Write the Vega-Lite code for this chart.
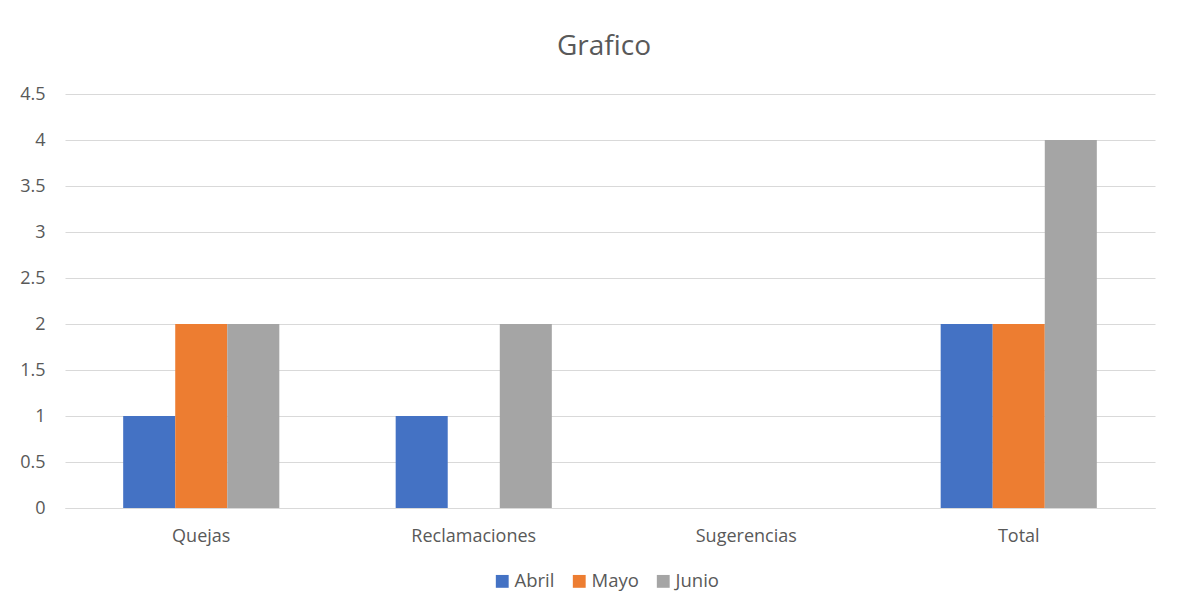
{
  "$schema": "https://vega.github.io/schema/vega-lite/v6.json",
  "width": 1090,
  "height": 414,
  "autosize": {"type": "none"},
  "padding": {"left": 65, "top": 94, "right": 41, "bottom": 103},
  "background": "white",
  "title": {
    "text": "Grafico",
    "fontSize": 28,
    "font": "Open Sans",
    "fontWeight": "normal",
    "color": "#595959",
    "anchor": "middle",
    "dx": -6,
    "offset": 24
  },
  "data": {
    "values": [
      {"Categoria": "Quejas", "Mes": "Abril", "Valor": 1},
      {"Categoria": "Quejas", "Mes": "Mayo", "Valor": 2},
      {"Categoria": "Quejas", "Mes": "Junio", "Valor": 2},
      {"Categoria": "Reclamaciones", "Mes": "Abril", "Valor": 1},
      {"Categoria": "Reclamaciones", "Mes": "Mayo", "Valor": 0},
      {"Categoria": "Reclamaciones", "Mes": "Junio", "Valor": 2},
      {"Categoria": "Sugerencias", "Mes": "Abril", "Valor": 0},
      {"Categoria": "Sugerencias", "Mes": "Mayo", "Valor": 0},
      {"Categoria": "Sugerencias", "Mes": "Junio", "Valor": 0},
      {"Categoria": "Total", "Mes": "Abril", "Valor": 2},
      {"Categoria": "Total", "Mes": "Mayo", "Valor": 2},
      {"Categoria": "Total", "Mes": "Junio", "Valor": 4}
    ]
  },
  "mark": {"type": "bar"},
  "encoding": {
    "x": {
      "field": "Categoria",
      "type": "nominal",
      "sort": ["Quejas", "Reclamaciones", "Sugerencias", "Total"],
      "title": null,
      "scale": {"paddingInner": 0.427, "paddingOuter": 0.2135},
      "axis": {
        "labelAngle": 0,
        "ticks": false,
        "domainColor": "#d9d9d9",
        "labelPadding": 19
      }
    },
    "xOffset": {
      "field": "Mes",
      "sort": ["Abril", "Mayo", "Junio"],
      "scale": {"paddingInner": 0, "paddingOuter": 0}
    },
    "y": {
      "field": "Valor",
      "type": "quantitative",
      "title": null,
      "scale": {"domain": [0, 4.5]},
      "axis": {
        "values": [0, 0.5, 1, 1.5, 2, 2.5, 3, 3.5, 4, 4.5],
        "domain": false,
        "ticks": false,
        "labelPadding": 20,
        "format": "~g"
      }
    },
    "color": {
      "field": "Mes",
      "type": "nominal",
      "sort": ["Abril", "Mayo", "Junio"],
      "scale": {"domain": ["Abril", "Mayo", "Junio"], "range": ["#4472C4", "#ED7D31", "#A5A5A5"]},
      "legend": {
        "title": null,
        "orient": "none",
        "legendX": 428,
        "legendY": 478,
        "direction": "horizontal",
        "symbolType": "square",
        "symbolSize": 165,
        "symbolStrokeWidth": 0,
        "labelFontSize": 18.5,
        "labelColor": "#595959",
        "labelFont": "Open Sans",
        "columnPadding": 15,
        "labelOffset": 3
      }
    }
  },
  "config": {
    "view": {"stroke": null},
    "axis": {
      "labelFont": "Open Sans",
      "labelFontSize": 18,
      "labelColor": "#595959",
      "gridColor": "#d9d9d9",
      "gridWidth": 1
    },
    "axisX": {"grid": false}
  }
}
